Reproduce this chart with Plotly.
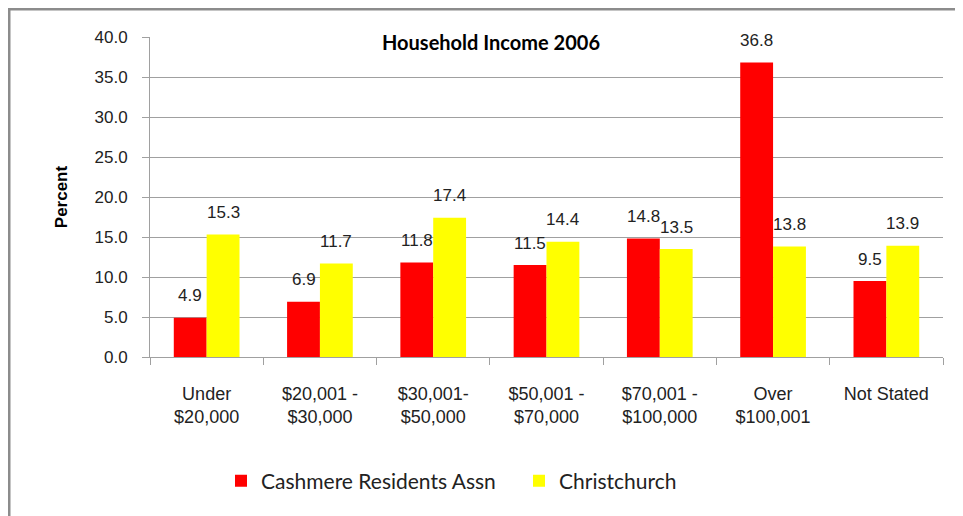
import plotly.graph_objects as go

categories = ["Under<br>$20,000", "$20,001 -<br>$30,000", "$30,001-<br>$50,000",
              "$50,001 -<br>$70,000", "$70,001 -<br>$100,000", "Over<br>$100,001", "Not Stated"]
cashmere = [4.9, 6.9, 11.8, 11.5, 14.8, 36.8, 9.5]
christchurch = [15.3, 11.7, 17.4, 14.4, 13.5, 13.8, 13.9]
y_ticks = [0, 5, 10, 15, 20, 25, 30, 35, 40]

# page body has an 8px margin, so the figure starts at (8, 8) in the window
OFF = 8
W, H = 963 - OFF, 516 - OFF
X0, X1, Y0, Y1 = 150, 943, 37, 357  # plot area in window pixels
L, T = X0 - OFF, Y0 - OFF
R, B = W - (X1 - OFF), H - (Y1 - OFF)
pw, ph = X1 - X0, Y1 - Y0

def px_x(x):
    return (x - X0) / pw

def px_y(y):
    return (Y1 - y) / ph

arial = "Arial, Liberation Sans"
label_font = dict(family=arial, size=17, color="#222222")

fig = go.Figure()
fig.add_trace(go.Bar(x=categories, y=cashmere, name="Cashmere Residents Assn",
                     marker=dict(color="#ff0000", line=dict(width=0))))
fig.add_trace(go.Bar(x=categories, y=christchurch, name="Christchurch",
                     marker=dict(color="#ffff00", line=dict(width=0))))

# data labels sit a little above each bar, like the original
bar_px = pw / len(categories) * 0.29
annotations = []
for vals, shift in [(cashmere, -bar_px / 2), (christchurch, bar_px / 2)]:
    for cat, v in zip(categories, vals):
        annotations.append(dict(x=cat, y=v, xref="x", yref="y", text=f"{v:.1f}",
                                showarrow=False, xshift=shift, yshift=22,
                                yanchor="middle", font=label_font))

annotations.append(dict(text="<b>Household Income 2006</b>", xref="paper", yref="paper",
                        x=px_x(491), y=px_y(42), xanchor="center", yanchor="middle",
                        showarrow=False,
                        font=dict(family="Lato, Noto Sans", size=20, color="#000000")))

fig.update_layout(
    width=W, height=H,
    margin=dict(l=L, r=R, t=T, b=B, autoexpand=False),
    paper_bgcolor="white", plot_bgcolor="white",
    barmode="group", bargap=0.42, bargroupgap=0,
    showlegend=True,
    legend=dict(orientation="h", x=px_x(221), xanchor="left",
                y=px_y(481), yanchor="middle",
                font=dict(family="Lato, Noto Sans", size=21, color="#222222"),
                itemwidth=30, entrywidth=253, tracegroupgap=0),
    yaxis=dict(range=[0, 40], tickvals=y_ticks, ticktext=[f"{v:.1f}" for v in y_ticks],
               showgrid=True, gridcolor="#a0a0a0", gridwidth=1,
               showline=True, linecolor="#a0a0a0", linewidth=1,
               ticks="outside", ticklen=7, tickcolor="#a0a0a0",
               tickfont=label_font, ticklabelstandoff=11, zeroline=False, automargin=False,
               title=dict(text="<b>Percent</b>", font=dict(family=arial, size=17, color="#000000"),
                          standoff=22)),
    xaxis=dict(showline=True, linecolor="#a0a0a0", linewidth=1,
               ticks="outside", ticklen=7, tickcolor="#a0a0a0", tickson="boundaries",
               tickfont=dict(family=arial, size=18, color="#222222"),
               ticklabelstandoff=20, automargin=False),
    shapes=[dict(type="rect", xref="paper", yref="paper",
                 x0=px_x(9), x1=px_x(990), y0=px_y(540), y1=px_y(9),
                 line=dict(color="#8c8c8c", width=3), layer="below")],
    annotations=annotations,
)

fig.write_html("out.html")
